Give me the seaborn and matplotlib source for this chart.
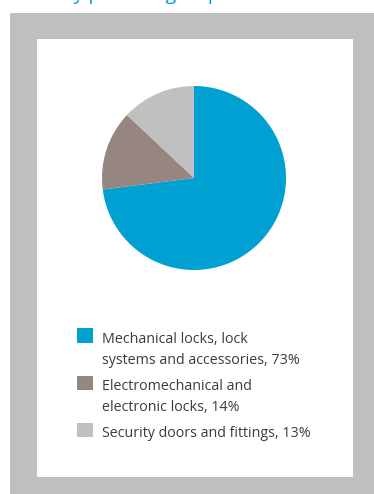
import matplotlib
matplotlib.use("Agg")
import matplotlib.pyplot as plt
from matplotlib.patches import Rectangle
import seaborn as sns

# ---- data ----
categories = [
    "Mechanical locks, lock\nsystems and accessories",
    "Electromechanical and\nelectronic locks",
    "Security doors and fittings",
]
shares = [73, 14, 13]
colors = ["#00A0D2", "#968581", "#C0C0C0"]
title = "Sales by product group"

sns.set_theme(style="white")
plt.rcParams["font.family"] = ["Open Sans", "DejaVu Sans"]

W, H = 374, 494
fig = plt.figure(figsize=(W / 100, H / 100), dpi=100)
fig.patch.set_facecolor("white")


def fx(x):
    return x / W


def fy(y):
    return 1 - y / H


# background boxes
fig.add_artist(Rectangle((fx(10), fy(494)), fx(374) - fx(10), fy(13) - fy(494),
                         transform=fig.transFigure, facecolor="#BFBFBF",
                         edgecolor="none", zorder=0))
fig.add_artist(Rectangle((fx(37), fy(477)), fx(353) - fx(37), fy(39) - fy(477),
                         transform=fig.transFigure, facecolor="white",
                         edgecolor="none", zorder=0.5))

# title (cut off at top edge in the reference: only descenders visible)
fig.text(fx(10), fy(-0.5), title, color="#00A0D2", fontsize=14, va="baseline",
         ha="left")

# pie
cx, cy, r = 194, 178, 92
ax = fig.add_axes([fx(cx - r), fy(cy + r), (2 * r) / W, (2 * r) / H])
ax.set_zorder(3)
ax.pie(shares, colors=colors, startangle=90, counterclock=False,
       wedgeprops=dict(linewidth=0))
ax.set_xlim(-1, 1)
ax.set_ylim(-1, 1)
ax.set_aspect("equal")
ax.axis("off")

# legend
base = 343
line_h = 21
for cat, val, col in zip(categories, shares, colors):
    lines = (cat + f", {val}%").split("\n")
    fig.add_artist(Rectangle((fx(77), fy(base)), fx(93) - fx(77), fy(base - 14.5) - fy(base),
                             transform=fig.transFigure, facecolor=col,
                             edgecolor="none", zorder=2))
    for i, ln in enumerate(lines):
        fig.text(fx(102), fy(base + i * line_h), ln, fontsize=10.3,
                 color="#3C3C3C", va="baseline", ha="left")
    base += len(lines) * line_h + 5

fig.savefig("out.png", dpi=100)
